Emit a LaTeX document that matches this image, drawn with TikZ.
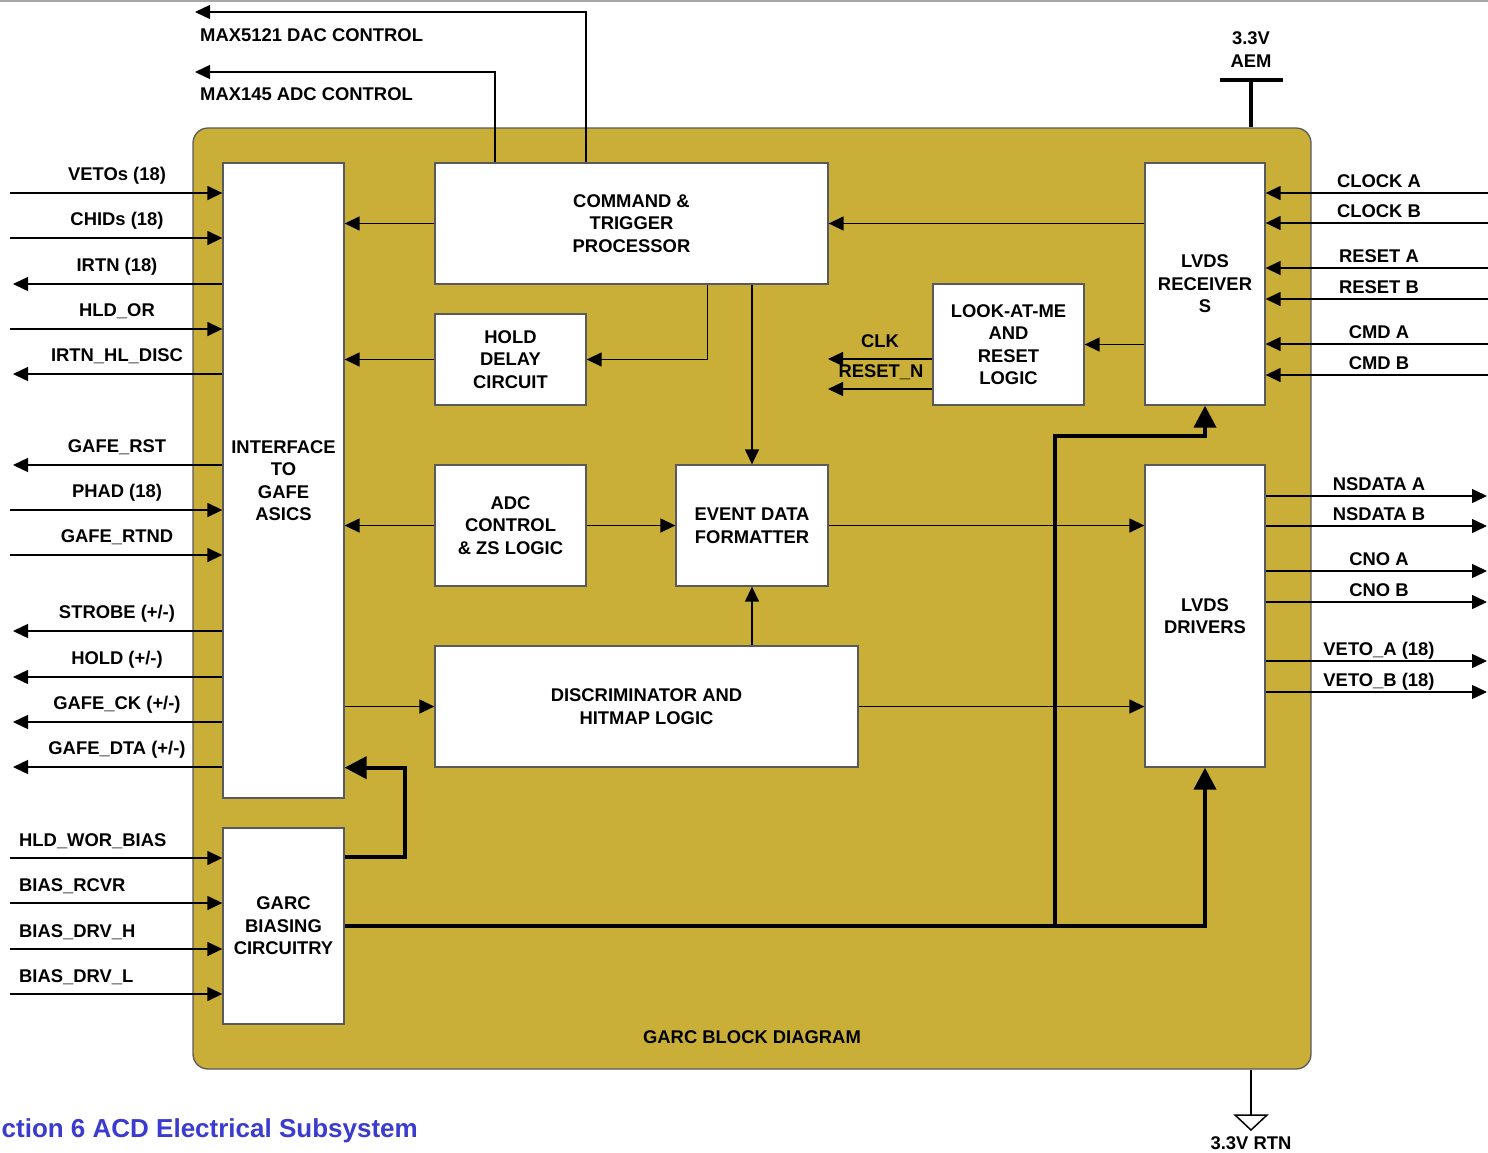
\documentclass[tikz,border=0pt]{standalone}
\usepackage{fontspec}
\setmainfont{Liberation Sans}
\usepackage{tikz}
\usetikzlibrary{arrows.meta,calc}
\definecolor{garcgold}{HTML}{C9AF38}
\definecolor{edgegray}{HTML}{5A5A5A}
\definecolor{titleblue}{HTML}{3B3BD0}

\begin{document}
\begin{tikzpicture}[x=1pt,y=-1pt,
  every node/.style={font=\fontsize{18.4}{22.5}\selectfont\bfseries},
  blk/.style={draw=edgegray,line width=1.3pt,fill=white,align=center,inner sep=0pt},
  sig/.style={line width=1.4pt,-{Triangle[length=15pt,width=14pt]}},
  thk/.style={line width=4pt},
  lbl/.style={anchor=base,inner sep=0pt}]
  \useasboundingbox (0,0) rectangle (1488,1152);
  \draw[gray!70,line width=1.5pt] (0,1) -- (1488,1);

  % Gold panel
  \node[draw=edgegray,line width=1.3pt,fill=garcgold,rounded corners=15pt,
    minimum width=1118pt,minimum height=941pt] (panel) at (752,598.5) {};
  \node[lbl] (title) at (752,1043) {GARC BLOCK DIAGRAM};

  % Blocks
  \node[blk,minimum width=121pt,minimum height=635pt] (ifc) at (283.5,480.5) {INTERFACE\\TO\\GAFE\\ASICS};
  \node[blk,minimum width=121pt,minimum height=196pt] (garc) at (283.5,926) {GARC\\BIASING\\CIRCUITRY};
  \node[blk,minimum width=393pt,minimum height=121pt] (cmd) at (631.5,223.5) {COMMAND \&\\TRIGGER\\PROCESSOR};
  \node[blk,minimum width=151pt,minimum height=91pt] (hold) at (510.5,359.5) {HOLD\\DELAY\\CIRCUIT};
  \node[blk,minimum width=151pt,minimum height=121pt] (adc) at (510.5,525.5) {ADC\\CONTROL\\\& ZS LOGIC};
  \node[blk,minimum width=152pt,minimum height=121pt] (evt) at (752,525.5) {EVENT DATA\\FORMATTER};
  \node[blk,minimum width=423pt,minimum height=121pt] (disc) at (646.5,706.5) {DISCRIMINATOR AND\\HITMAP LOGIC};
  \node[blk,minimum width=151pt,minimum height=121pt] (lam) at (1008.5,344.5) {LOOK-AT-ME\\AND\\RESET\\LOGIC};
  \node[blk,minimum width=120pt,minimum height=242pt] (rcv) at (1205,284) {LVDS\\RECEIVER\\S};
  \node[blk,minimum width=120pt,minimum height=302pt] (drv) at (1205,616) {LVDS\\DRIVERS};

  % Internal connections
  \draw[sig] (cmd.west) -- (cmd.west -| ifc.east);
  \draw[sig] (cmd.east -| rcv.west) -- (cmd.east);
  \draw[sig] (cmd.south) ++(76,0) |- (hold.east);
  \draw[sig] (hold.west) -- (hold.west -| ifc.east);
  \draw[sig] (evt.north |- cmd.south) -- (evt.north);
  \draw[sig] (lam.east -| rcv.west) -- (lam.east);
  \draw[sig,{Triangle[length=15pt,width=14pt]}-] (adc.west -| ifc.east) -- (adc.west);
  \draw[sig] (adc.east) -- (evt.west);
  \draw[sig] (evt.east) -- (evt.east -| drv.west);
  \draw[sig] (disc.north -| evt.south) -- (evt.south);
  \draw[sig] (disc.west -| ifc.east) -- (disc.west);
  \draw[sig] (disc.east) -- (disc.east -| drv.west);

  % CLK and RESET_N out of look-at-me
  \coordinate (clk) at (828,359);
  \coordinate (rstn) at (828,389);
  \draw[sig] (clk -| lam.west) -- (clk);
  \draw[sig] (rstn -| lam.west) -- (rstn);
  \node[lbl] (clkl) at (880,347) {CLK};
  \node[lbl] (rstnl) at (881,377) {RESET\_N};

  % Bias power (thick)
  \draw[thk,-{Triangle[length=22pt,width=22pt]}] ($(garc.north east)+(0,30)$) -- ++(60,0)
    |- ($(ifc.south east)+(0,-31)$);
  \draw[thk,-{Triangle[length=22pt,width=22pt]}] (garc.east) -| (drv.south);
  \draw[thk,-{Triangle[length=22pt,width=22pt]}] (garc.east) ++(710,0) |- ($(rcv.south)+(0,30)$) -- (rcv.south);

  % DAC / ADC control
  \coordinate (dac) at (195,12);
  \coordinate (madc) at (195,72);
  \draw[sig] (cmd.north) ++(-45.5,0) |- (dac);
  \draw[sig] (cmd.north) ++(-136.5,0) |- (madc);
  \node[lbl,anchor=base west] (dacl) at (200,41) {MAX5121 DAC CONTROL};
  \node[lbl,anchor=base west] (madcl) at (200,100) {MAX145 ADC CONTROL};

  % Left side, inputs
  \foreach \y/\t [count=\i] in {193/{VETOs (18)},238/{CHIDs (18)},329/{HLD\_OR},510/{PHAD (18)},555/{GAFE\_RTND}} {
    \coordinate (li\i) at (10,\y);
    \draw[sig] (li\i) -- (li\i -| ifc.west);
    \node[lbl] (lil\i) at (117,\y-13) {\t};
  }
  % Left side, outputs
  \foreach \y/\t [count=\i] in {284/{IRTN (18)},374/{IRTN\_HL\_DISC},465/{GAFE\_RST},631/{STROBE (+/-)},677/{HOLD (+/-)},722/{GAFE\_CK (+/-)},767/{GAFE\_DTA (+/-)}} {
    \coordinate (lo\i) at (13,\y);
    \draw[sig] (lo\i -| ifc.west) -- (lo\i);
    \node[lbl] (lol\i) at (117,\y-13) {\t};
  }
  % Bias inputs
  \foreach \y/\t [count=\i] in {858/{HLD\_WOR\_BIAS},903/{BIAS\_RCVR},949/{BIAS\_DRV\_H},994/{BIAS\_DRV\_L}} {
    \coordinate (bi\i) at (10,\y);
    \draw[sig] (bi\i) -- (bi\i -| garc.west);
    \node[lbl,anchor=base west] (bil\i) at (19,\y-12) {\t};
  }
  % Right side, inputs
  \foreach \y/\t [count=\i] in {193/{CLOCK A},223/{CLOCK B},268/{RESET A},299/{RESET B},344/{CMD A},375/{CMD B}} {
    \coordinate (ri\i) at (1488,\y);
    \draw[sig] (ri\i) -- (ri\i -| rcv.east);
    \node[lbl] (ril\i) at (1379,\y-6) {\t};
  }
  % Right side, outputs
  \foreach \y/\t [count=\i] in {496/{NSDATA A},526/{NSDATA B},571/{CNO A},602/{CNO B},661/{VETO\_A (18)},692/{VETO\_B (18)}} {
    \coordinate (ro\i) at (1487,\y);
    \draw[sig] (ro\i -| drv.east) -- (ro\i);
    \node[lbl] (rol\i) at (1379,\y-6) {\t};
  }

  % Supply and return
  \coordinate (aem) at (1251,80);
  \draw[thk] (aem) -- (aem |- panel.north);
  \draw[thk] (aem) ++(-31,0) -- ++(63,0);
  \node[lbl,align=center] (aeml) at (1251,67) {3.3V\\AEM};
  \coordinate (rtn) at (1251,1115);
  \draw[line width=1.5pt] (rtn |- panel.south) -- (rtn);
  \draw[line width=1.5pt,fill=white] (rtn) ++(-16,0) -- ++(32,0) -- (1251,1130) -- cycle;
  \node[lbl] (rtnl) at (1251,1149) {3.3V RTN};

  \node[anchor=base east,inner sep=0pt,font=\fontsize{26}{30}\selectfont\bfseries,text=titleblue] (sect) at (418,1137) {ction 6 ACD Electrical Subsystem};
\end{tikzpicture}
\end{document}
